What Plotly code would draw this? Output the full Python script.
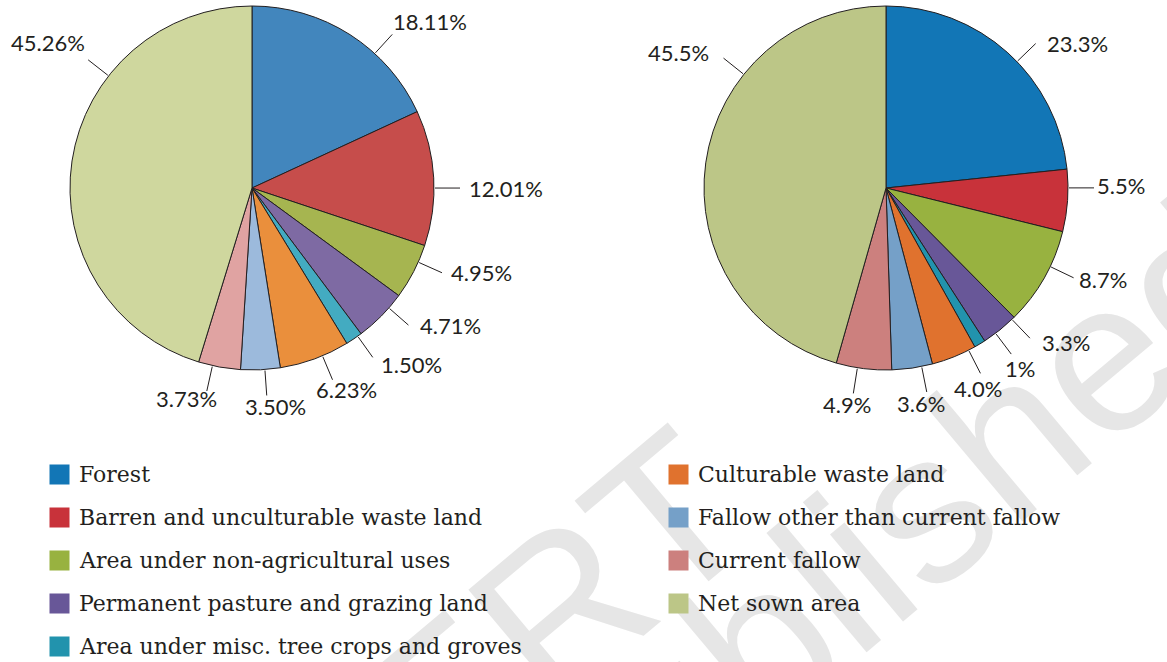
import math
import plotly.graph_objects as go

W, H = 1167, 662

# ---------------- data ----------------
categories = [
    "Forest",
    "Barren and unculturable waste land",
    "Area under non-agricultural uses",
    "Permanent pasture and grazing land",
    "Area under misc. tree crops and groves",
    "Culturable waste land",
    "Fallow other than current fallow",
    "Current fallow",
    "Net sown area",
]
left_values = [18.11, 12.01, 4.95, 4.71, 1.50, 6.23, 3.50, 3.73, 45.26]
left_labels = ["18.11%", "12.01%", "4.95%", "4.71%", "1.50%", "6.23%", "3.50%", "3.73%", "45.26%"]
right_values = [23.3, 5.5, 8.7, 3.3, 1, 4.0, 3.6, 4.9, 45.5]
right_labels = ["23.3%", "5.5%", "8.7%", "3.3%", "1%", "4.0%", "3.6%", "4.9%", "45.5%"]

# ---------------- styles / layout ----------------
left_colors = ["#4286BD", "#C64D4B", "#A6B550", "#7E6AA3", "#43ABC1",
               "#EA8F3C", "#9CBADC", "#E0A3A2", "#CFD79E"]
right_colors = ["#1276B6", "#C8323A", "#98B240", "#685798", "#2293AD",
                "#E0722E", "#75A0C8", "#CC807E", "#BCC687"]
legend_colors = right_colors
text_color = "#231F20"
label_font = dict(family="Lato", size=22, color=text_color)
legend_font = dict(family="DejaVu Serif", size=22, color=text_color)

R = 182
R_OUT = 208
left_center = (252, 188)
right_center = (886, 188)
# angular nudges (deg) of leader lines relative to slice middles
left_shift = [9.8, 3.2, -3.3, -3.5, -1.4, -2.6, -1.4, 2.2, 29.5]
right_shift = [4.0, -4.0, -4.0, -5.0, -6.0, -5.0, -3.0, 2.0, 30.7]
# small pixel nudges of label text (dx, dy)
left_nudge = [(-2, 0), (6, 0), (6, -5), (8, -7), (9, -2), (-6, 0), (5, 0), (-9, -3), (0, -5)]
right_nudge = [(8, 13), (0, -2), (2, -3), (9, -4), (-8, 6), (-21, 5), (-14, 1), (0, 0), (-11, 7)]


def px(x):
    return x / W


def py(y):
    return 1 - y / H


char_w = {".": 5.6, "%": 17.4}


def text_w(s):
    return sum(char_w.get(c, 12.8) for c in s)


fig = go.Figure()

annotations = []
shapes = []

# watermark (drawn first, behind the other annotations)
wm_color = "#E6E6E6"
wm_font = dict(family="Liberation Sans", size=215, color=wm_color)
wm_angle = -40
annotations.append(dict(text="NCERT", x=px(436), y=py(712), xref="paper", yref="paper",
                        showarrow=False, textangle=wm_angle, font=wm_font,
                        xanchor="center", yanchor="middle"))
annotations.append(dict(text="republished", x=px(812), y=py(600), xref="paper", yref="paper",
                        showarrow=False, textangle=wm_angle, font=wm_font,
                        xanchor="center", yanchor="middle"))

for vals, labs, cols, (cx, cy), shifts, nudges in [
    (left_values, left_labels, left_colors, left_center, left_shift, left_nudge),
    (right_values, right_labels, right_colors, right_center, right_shift, right_nudge),
]:
    fig.add_trace(go.Pie(
        values=vals, labels=categories, sort=False, direction="clockwise", rotation=0,
        marker=dict(colors=cols, line=dict(color=text_color, width=1)),
        textinfo="none", textposition="none", hoverinfo="label+percent", showlegend=False,
        domain=dict(x=[px(cx - R), px(cx + R)], y=[py(cy + R), py(cy - R)]),
    ))
    total = sum(vals)
    cum = 0.0
    for v, lab, s, (ndx, ndy) in zip(vals, labs, shifts, nudges):
        mid = (cum + v / 2) / total * 360.0
        cum += v
        a = math.radians(mid + s)
        sa, ca = math.sin(a), math.cos(a)
        x0, y0 = cx + (R + 1) * sa, cy - (R + 1) * ca
        x1, y1 = cx + R_OUT * sa, cy - R_OUT * ca
        shapes.append(dict(type="line", xref="paper", yref="paper",
                           x0=px(x0), y0=py(y0), x1=px(x1), y1=py(y1),
                           line=dict(color=text_color, width=1)))
        w = text_w(lab)
        fx = max(-1.0, min(1.0, 1.5 * sa))
        if ca >= 0:
            oy = -max(-1.0, min(1.0, 1.6 * ca)) * 13
        else:
            oy = -ca * 11
        tx = x1 + fx * (w / 2 + 3) + ndx
        ty = y1 + oy + ndy
        annotations.append(dict(text=lab, x=px(tx), y=py(ty), xref="paper", yref="paper",
                                showarrow=False, xanchor="center", yanchor="middle",
                                font=label_font))

# legend (two columns)
col_x = [49, 668]
row_y = [474, 517, 560, 603, 646]
positions = [(0, i) for i in range(5)] + [(1, i) for i in range(4)]
for cat, col, (c, r) in zip(categories, legend_colors, positions):
    sx = col_x[c]
    sy = row_y[r]
    annotations.append(dict(text=" ", x=px(sx), y=py(sy), xref="paper", yref="paper",
                            showarrow=False, xanchor="left", yanchor="middle",
                            width=19, height=19, borderpad=0, bgcolor=col,
                            font=dict(size=2)))
    annotations.append(dict(text=cat, x=px(sx + 28), y=py(sy), xref="paper", yref="paper",
                            showarrow=False, xanchor="left", yanchor="middle",
                            font=legend_font))

fig.update_layout(
    width=W, height=H, autosize=False,
    margin=dict(l=0, r=0, t=0, b=0),
    paper_bgcolor="white", plot_bgcolor="white",
    annotations=annotations, shapes=shapes,
    showlegend=False,
)

fig.write_html("out.html", config={"displayModeBar": False},
               post_script="document.body.style.margin='0px';")
